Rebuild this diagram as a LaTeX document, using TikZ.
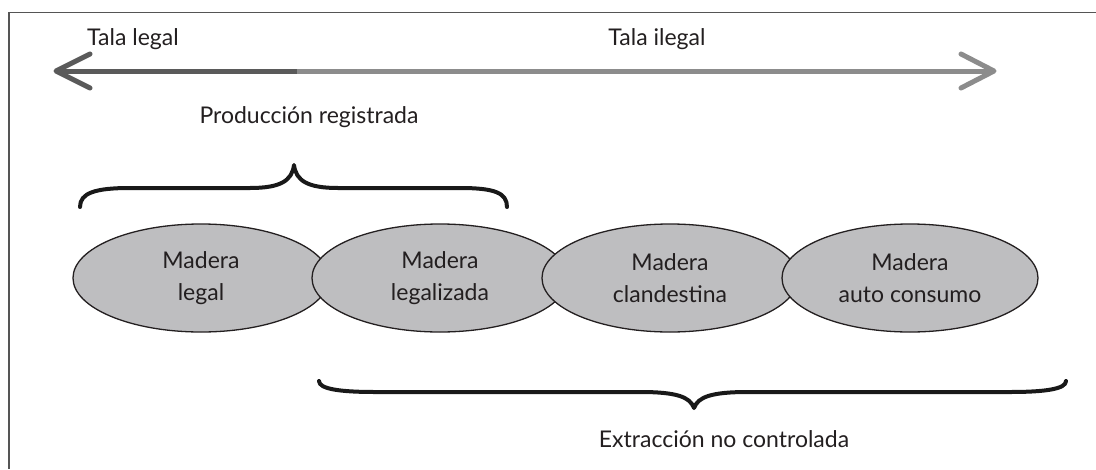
\documentclass[tikz,border=0pt]{standalone}
\usepackage{fontspec}
\setmainfont{Lato}
\usetikzlibrary{shapes.geometric}
\definecolor{framegray}{HTML}{555555}
\definecolor{darkarrow}{HTML}{5A5A5A}
\definecolor{lightarrow}{HTML}{8C8C8C}
\definecolor{ellfill}{HTML}{BEBEC0}
\definecolor{txt}{HTML}{231F20}
\tikzset{
  lbl/.style={font=\fontsize{23}{30}\selectfont, text=txt, inner sep=0pt},
  madera/.style={ellipse, draw=txt, line width=1.3pt, fill=ellfill,
    minimum width=256pt, minimum height=108pt, inner sep=0pt,
    align=center, font=\fontsize{23}{32}\selectfont, text=txt},
  bracestyle/.style={line width=4pt, line cap=round, line join=round, draw=black!90},
  arrowline/.style={line width=5pt, line cap=butt},
  chevron/.style={line width=5pt, line cap=round, line join=round}
}
\begin{document}
\begin{tikzpicture}[x=1pt,y=-1pt]
\useasboundingbox (0,0) rectangle (1096,469);
% frame
\draw[framegray, line width=1.8pt] (1096,12.5) -- (9,12.5) -- (9,469);
% arrow
\coordinate (ltip) at (56,71);
\coordinate (mid) at (297,71);
\coordinate (rtip) at (994,71);
\draw[arrowline, darkarrow] (mid) -- ([xshift=3pt]ltip);
\draw[arrowline, lightarrow] (mid) -- ([xshift=-3pt]rtip);
\draw[chevron, darkarrow] ([shift={(34,-17)}]ltip) -- (ltip) -- ([shift={(34,17)}]ltip);
\draw[chevron, lightarrow] ([shift={(-33,-17)}]rtip) -- (rtip) -- ([shift={(-33,17)}]rtip);
\node[lbl, anchor=base] (tl) at (133,45) {Tala legal};
\node[lbl, anchor=base] (ti) at (657,45) {Tala ilegal};
% top brace
\node[lbl, anchor=base] (pr) at (309,123) {Producción registrada};
\draw[bracestyle] (80,207) .. controls (80,193) and (95,188) .. (130,188) -- (250,188)
  .. controls (280,188) and (292,181) .. (294,165)
  .. controls (296,181) and (308,188) .. (338,188) -- (460,188)
  .. controls (495,188) and (507,193) .. (507,207);
% ellipses
\node[madera] (e1) at (201,278) {Madera\\legal};
\node[madera] (e2) at (440,278) {Madera\\legalizada};
\node[madera] (e3) at (670,278) {Madera\\clandestina};
\node[madera] (e4) at (910,278) {Madera\\auto consumo};
% bottom brace
\draw[bracestyle] (319,381) .. controls (319,389) and (340,392) .. (375,392) -- (640,392)
  .. controls (677,392) and (690,397) .. (694,408)
  .. controls (698,397) and (711,392) .. (748,392) -- (1010,392)
  .. controls (1045,392) and (1066,389) .. (1066,381);
\node[lbl, anchor=base] (ex) at (724,447) {Extracción no controlada};
\end{tikzpicture}
\end{document}
